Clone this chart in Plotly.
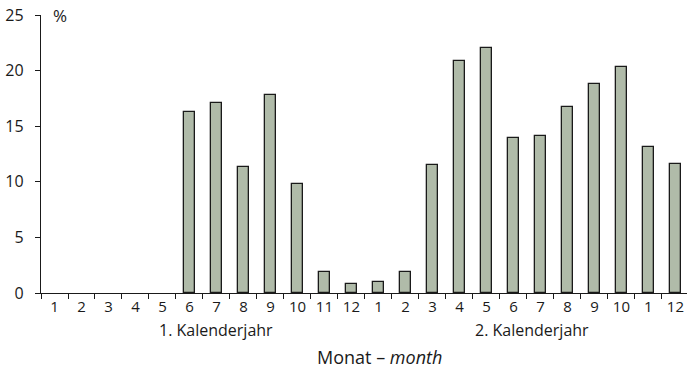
import plotly.graph_objects as go

tick_labels = ["1", "2", "3", "4", "5", "6", "7", "8", "9", "10", "11", "12",
               "1", "2", "3", "4", "5", "6", "7", "8", "9", "10", "1", "12"]
values = [None, None, None, None, None, 16.3, 17.05, 11.3, 17.8, 9.8, 1.9, 0.8,
          1.0, 1.9, 11.55, 20.85, 22.05, 13.9, 14.1, 16.75, 18.8, 20.3, 13.1, 11.6]
year_labels = ["1. Kalenderjahr", "2. Kalenderjahr"]
year_pos = [6.0, 17.7]
x_title = "Monat – <i>month</i>"
y_unit = "%"

xs = list(range(len(tick_labels)))
FONT = "Open Sans"
BLACK = "#1a1a1a"

fig = go.Figure()
fig.add_trace(go.Bar(
    x=xs, y=values, width=0.4,
    marker=dict(color="#b0bba9", line=dict(color=BLACK, width=1.3)),
))

annotations = []
for lbl, p in zip(year_labels, year_pos):
    annotations.append(dict(x=p, y=0, xref="x", yref="paper", yshift=-37,
                            text=lbl, showarrow=False, xanchor="center", yanchor="middle",
                            font=dict(family=FONT, size=16, color=BLACK)))
annotations.append(dict(x=12.05, y=0, xref="x", yref="paper", yshift=-64,
                        text=x_title, showarrow=False, xanchor="center", yanchor="middle",
                        font=dict(family=FONT, size=18, color=BLACK)))
annotations.append(dict(x=0, y=1, xref="paper", yref="paper", xshift=19,
                        text=y_unit, showarrow=False, xanchor="center", yanchor="middle",
                        font=dict(family=FONT, size=17, color=BLACK)))

fig.update_layout(
    width=687, height=376,
    margin=dict(l=41, r=0, t=15, b=83, pad=0),
    paper_bgcolor="white", plot_bgcolor="white",
    showlegend=False,
    bargap=0,
    annotations=annotations,
    xaxis=dict(
        range=[-0.5, 23.43],
        tickmode="array", tickvals=xs, ticktext=tick_labels,
        ticks="", showgrid=False, zeroline=False,
        showline=True, linecolor=BLACK, linewidth=1.3,
        tickfont=dict(family=FONT, size=15, color=BLACK),
        minor=dict(tickmode="linear", tick0=-0.5, dtick=1, ticks="outside",
                   ticklen=5, tickcolor=BLACK, tickwidth=1.3, showgrid=False),
        fixedrange=True,
    ),
    yaxis=dict(
        range=[0, 25], tickmode="array", tickvals=[0, 5, 10, 15, 20, 25],
        ticks="outside", ticklen=5, tickcolor=BLACK, tickwidth=1.3,
        showgrid=False, zeroline=False,
        showline=True, linecolor=BLACK, linewidth=1.3,
        tickfont=dict(family=FONT, size=16, color=BLACK),
        ticklabelstandoff=8,
        fixedrange=True,
    ),
)

fig.write_html("out.html", config={"displayModeBar": False},
               post_script="document.body.style.margin='0';document.body.style.overflow='hidden';")
